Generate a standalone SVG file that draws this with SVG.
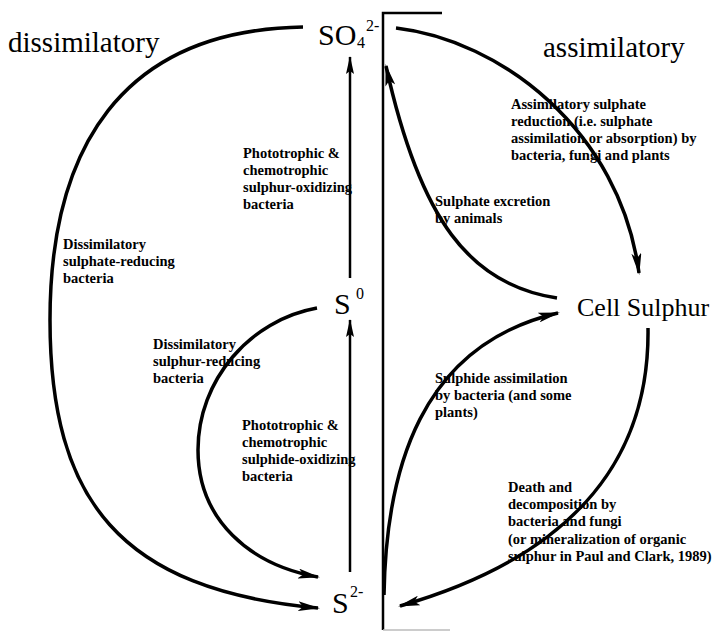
<svg xmlns="http://www.w3.org/2000/svg" width="726" height="633" viewBox="0 0 726 633">
<defs>
<marker id="ah" viewBox="0 0 22 10" refX="20" refY="5" markerWidth="22" markerHeight="10" markerUnits="userSpaceOnUse" orient="auto">
<path d="M0,0 L22,5 L0,10 L5,5 z" fill="#000"/>
</marker>
<marker id="ahs" viewBox="0 0 18 8" refX="17" refY="4" markerWidth="18" markerHeight="8" markerUnits="userSpaceOnUse" orient="auto">
<path d="M0,0 L18,4 L0,8 L3,4 z" fill="#000"/>
</marker>
<style>
text{font-family:"Liberation Serif","Times New Roman",serif;fill:#000}
.big{font-size:29px}
.chem{font-size:30px}
.sup{font-size:16px}
.node{font-size:26px}
.lbl{font-size:14.5px;font-weight:bold}
.arc{fill:none;stroke:#000;stroke-width:3.5;marker-end:url(#ah)}
.vert{fill:none;stroke:#000;stroke-width:2.5;marker-end:url(#ahs)}
.frame{fill:none;stroke:#000;stroke-width:2.5}
</style>
</defs>
<rect width="726" height="633" fill="#fff"/>

<g id="frame">
<path class="frame" d="M442,13 L383,13 L383,630"/>
<path d="M383,630 L450,630" stroke="#bbb" stroke-width="1.5" fill="none"/>
</g>

<g id="titles">
<text class="big" x="8" y="52">dissimilatory</text>
<text class="big" x="543" y="57">assimilatory</text>
</g>

<g id="node-so4">
<text class="chem" x="318" y="45">SO</text>
<text class="sup" x="357" y="48">4</text>
<text class="sup" x="366" y="31">2-</text>
</g>
<g id="node-s0">
<text class="chem" x="334" y="314">S</text>
<text class="sup" x="356" y="299">0</text>
</g>
<g id="node-s2">
<text class="chem" x="332" y="613">S</text>
<text class="sup" x="350" y="597">2-</text>
</g>
<g id="node-cell">
<text class="node" x="577" y="316">Cell Sulphur</text>
</g>

<g id="labels">
<text class="lbl" x="243" y="158">Phototrophic &amp;</text>
<text class="lbl" x="243" y="175">chemotrophic</text>
<text class="lbl" x="243" y="192">sulphur-oxidizing</text>
<text class="lbl" x="243" y="209">bacteria</text>

<text class="lbl" x="63" y="249">Dissimilatory</text>
<text class="lbl" x="63" y="266">sulphate-reducing</text>
<text class="lbl" x="63" y="283">bacteria</text>

<text class="lbl" x="153" y="349">Dissimilatory</text>
<text class="lbl" x="153" y="366">sulphur-reducing</text>
<text class="lbl" x="153" y="383">bacteria</text>

<text class="lbl" x="242" y="430">Phototrophic &amp;</text>
<text class="lbl" x="242" y="447">chemotrophic</text>
<text class="lbl" x="242" y="464">sulphide-oxidizing</text>
<text class="lbl" x="242" y="481">bacteria</text>

<text class="lbl" x="511" y="109">Assimilatory sulphate</text>
<text class="lbl" x="511" y="126">reduction (i.e. sulphate</text>
<text class="lbl" x="511" y="143">assimilation or absorption) by</text>
<text class="lbl" x="511" y="160">bacteria, fungi and plants</text>

<text class="lbl" x="435" y="206">Sulphate excretion</text>
<text class="lbl" x="435" y="223">by animals</text>

<text class="lbl" x="435" y="383">Sulphide assimilation</text>
<text class="lbl" x="435" y="400">by bacteria (and some</text>
<text class="lbl" x="435" y="417">plants)</text>

<text class="lbl" x="508" y="492">Death and</text>
<text class="lbl" x="508" y="509">decomposition by</text>
<text class="lbl" x="508" y="526">bacteria and fungi</text>
<text class="lbl" x="508" y="544">(or mineralization of organic</text>
<text class="lbl" x="508" y="561">sulphur in Paul and Clark, 1989)</text>
</g>

<g id="connectors">
<path class="arc" d="M303,27 C120,30 50,150 50,320 C50,500 120,590 318,608"/>
<path class="arc" d="M317,308 C250,320 198,380 198,450 C198,520 250,565 318,577"/>
<path class="vert" d="M350,278 L350,57"/>
<path class="vert" d="M350,572 L350,320"/>
<path class="arc" d="M396,28 C500,40 620,130 639,273"/>
<path class="arc" d="M557,298 C470,285 420,220 386,66"/>
<path class="arc" d="M384,595 C386,470 420,345 558,313"/>
<path class="arc" d="M648,328 C650,470 560,560 400,606"/>
</g>
</svg>
